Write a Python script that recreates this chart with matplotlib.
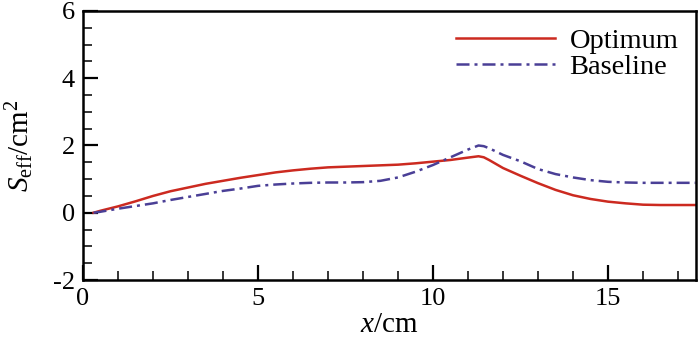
import matplotlib
matplotlib.use('Agg')
from matplotlib import pyplot as plt
from matplotlib.ticker import MultipleLocator

plt.rcParams['font.family'] = ['Liberation Serif', 'DejaVu Serif']
plt.rcParams['mathtext.fontset'] = 'custom'
plt.rcParams['mathtext.rm'] = 'Liberation Serif'
plt.rcParams['mathtext.it'] = 'Liberation Serif:italic'
plt.rcParams['axes.unicode_minus'] = False

# dane
x_opt = [0.3, 0.5, 1, 1.5, 2, 2.5, 3, 3.5, 4, 4.5, 5, 5.5, 6, 6.5, 7, 7.5,
         8, 8.5, 9, 9.5, 10, 10.5, 11, 11.3, 11.45, 11.6, 11.8, 12, 12.5,
         13, 13.5, 14, 14.5, 15, 15.5, 16, 16.5, 17, 17.5]
s_opt = [0.0, 0.06, 0.19, 0.34, 0.5, 0.64, 0.75, 0.86, 0.95, 1.04, 1.12,
         1.2, 1.26, 1.31, 1.35, 1.37, 1.39, 1.41, 1.43, 1.47, 1.52, 1.57,
         1.64, 1.68, 1.65, 1.57, 1.45, 1.33, 1.1, 0.88, 0.68, 0.52, 0.41,
         0.33, 0.28, 0.24, 0.23, 0.23, 0.23]

x_base = [0.3, 0.5, 1, 1.5, 2, 2.5, 3, 3.5, 4, 4.5, 5, 5.5, 6, 6.5, 7, 7.5,
          8, 8.5, 9, 9.5, 10, 10.5, 11, 11.3, 11.45, 11.6, 11.8, 12, 12.5,
          13, 13.5, 14, 14.5, 15, 15.5, 16, 17, 17.5]
s_base = [0.0, 0.03, 0.12, 0.2, 0.28, 0.38, 0.47, 0.56, 0.65, 0.72, 0.8,
          0.84, 0.87, 0.89, 0.9, 0.9, 0.91, 0.95, 1.05, 1.22, 1.42, 1.65,
          1.88, 2.0, 1.98, 1.92, 1.82, 1.72, 1.53, 1.3, 1.15, 1.05, 0.97,
          0.92, 0.9, 0.89, 0.89, 0.89]

fig = plt.figure(figsize=(7, 3.39), dpi=100)
ax = fig.add_axes([0.1186, 0.174, 0.875, 0.7936])

ax.plot(x_opt, s_opt, color='#cc2a20', lw=1.8, label='Optimum')
ax.plot(x_base, s_base, color='#4a3f96', lw=1.8, dashes=(5.2, 2, 1.2, 2),
        label='Baseline')

ax.set_xlim(0, 17.5)
ax.set_ylim(-2, 6)
ax.xaxis.set_major_locator(MultipleLocator(5))
ax.xaxis.set_minor_locator(MultipleLocator(1))
ax.yaxis.set_major_locator(MultipleLocator(2))
ax.yaxis.set_minor_locator(MultipleLocator(0.5))
ax.tick_params(which='both', direction='in', labelsize=19, pad=6,
               top=False, right=False)
ax.tick_params(which='major', length=10.5, width=1.6)
ax.tick_params(which='minor', length=6.5, width=1.1)
for sp in ax.spines.values():
    sp.set_linewidth(1.8)

ax.set_xlabel('$x$/cm', fontsize=21, labelpad=1)
ax.set_ylabel(r'$S_{\mathrm{eff}}$/cm$^2$', fontsize=21, labelpad=12)

ax.legend(loc='upper right', frameon=False, fontsize=20.5, handlelength=3.5,
          handletextpad=0.5, labelspacing=0.0, borderaxespad=0.2)

fig.savefig('out.png', dpi=100)
